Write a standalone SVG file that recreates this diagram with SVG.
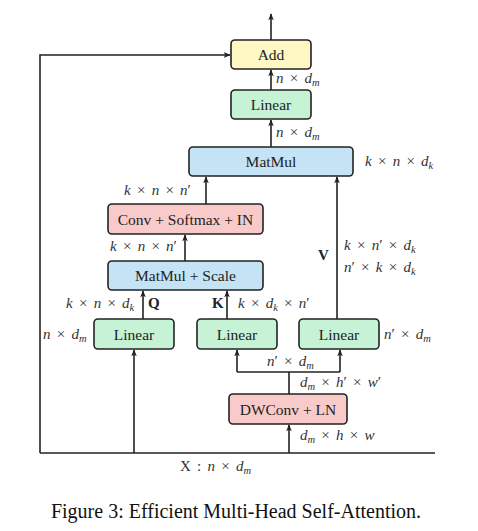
<svg xmlns="http://www.w3.org/2000/svg" width="478" height="531" viewBox="0 0 478 531">
<style>
.box{stroke:#222;stroke-width:1.6}
.lbl{font-family:"Liberation Serif",serif;font-size:15.5px;fill:#222;text-anchor:middle}
.m{font-family:"Liberation Serif",serif;font-size:15px;fill:#333;font-style:italic;word-spacing:2.5px}
.u{font-style:normal}
.s{font-size:10.5px}
.b{font-family:"Liberation Serif",serif;font-size:15px;font-weight:bold;fill:#222}
.ln{stroke:#222;stroke-width:1.6;fill:none}
</style>
<defs>
<marker id="ah" viewBox="0 0 10 10" refX="9" refY="5" markerWidth="7" markerHeight="7" orient="auto" markerUnits="userSpaceOnUse">
<path d="M0,1 L10,5 L0,9 L2.5,5 Z" fill="#222"/>
</marker>
</defs>
<rect width="478" height="531" fill="#fff"/>
<g id="connectors">
<path class="ln" d="M271,40 V14" marker-end="url(#ah)"/>
<path class="ln" d="M40,453 V55 H230" marker-end="url(#ah)"/>
<path class="ln" d="M271,90 V70" marker-end="url(#ah)"/>
<path class="ln" d="M271,147 V120" marker-end="url(#ah)"/>
<path class="ln" d="M206,204 V177" marker-end="url(#ah)"/>
<path class="ln" d="M185,261 V235" marker-end="url(#ah)"/>
<path class="ln" d="M143,319 V291" marker-end="url(#ah)"/>
<path class="ln" d="M227,319 V291" marker-end="url(#ah)"/>
<path class="ln" d="M337,319 V177" marker-end="url(#ah)"/>
<path class="ln" d="M40,453 H435"/>
<path class="ln" d="M134,453 V350" marker-end="url(#ah)"/>
<path class="ln" d="M289,453 V425" marker-end="url(#ah)"/>
<path class="ln" d="M289,394 V372"/>
<path class="ln" d="M237,372 H340"/>
<path class="ln" d="M237,372 V350" marker-end="url(#ah)"/>
<path class="ln" d="M340,372 V350" marker-end="url(#ah)"/>
</g>
<g id="add"><rect class="box" x="231" y="40" width="80" height="29" rx="4" fill="#fdf8c4"/><text class="lbl" x="271" y="60">Add</text></g>
<g id="linear-out"><rect class="box" x="231" y="90" width="80" height="29" rx="4" fill="#c6f3d5"/><text class="lbl" x="271" y="110">Linear</text></g>
<g id="matmul"><rect class="box" x="189" y="147" width="164" height="29" rx="4" fill="#c4e3f5"/><text class="lbl" x="271" y="167">MatMul</text></g>
<g id="conv-softmax"><rect class="box" x="108" y="204" width="155" height="30" rx="4" fill="#f9caca"/><text class="lbl" x="185.5" y="224.5">Conv + Softmax + IN</text></g>
<g id="matmul-scale"><rect class="box" x="108" y="261" width="155" height="29" rx="4" fill="#c4e3f5"/><text class="lbl" x="185.5" y="281">MatMul + Scale</text></g>
<g id="linear-q"><rect class="box" x="94" y="319" width="80" height="30" rx="4" fill="#c6f3d5"/><text class="lbl" x="134" y="339.5">Linear</text></g>
<g id="linear-k"><rect class="box" x="197" y="319" width="80" height="30" rx="4" fill="#c6f3d5"/><text class="lbl" x="237" y="339.5">Linear</text></g>
<g id="linear-v"><rect class="box" x="299" y="319" width="80" height="30" rx="4" fill="#c6f3d5"/><text class="lbl" x="339" y="339.5">Linear</text></g>
<g id="dwconv"><rect class="box" x="229" y="394" width="118" height="30" rx="4" fill="#f9caca"/><text class="lbl" x="288" y="414.5">DWConv + LN</text></g>
<g id="labels">
<text class="m" x="276" y="83">n <tspan class="u">×</tspan> d<tspan class="s" dy="3">m</tspan></text>
<text class="m" x="276" y="137">n <tspan class="u">×</tspan> d<tspan class="s" dy="3">m</tspan></text>
<text class="m" x="365" y="166">k <tspan class="u">×</tspan> n <tspan class="u">×</tspan> d<tspan class="s" dy="3">k</tspan></text>
<text class="m" x="124" y="195">k <tspan class="u">×</tspan> n <tspan class="u">×</tspan> n<tspan class="u">′</tspan></text>
<text class="m" x="110" y="251">k <tspan class="u">×</tspan> n <tspan class="u">×</tspan> n<tspan class="u">′</tspan></text>
<text class="b" x="318" y="260">V</text>
<text class="m" x="344" y="250">k <tspan class="u">×</tspan> n<tspan class="u">′</tspan> <tspan class="u">×</tspan> d<tspan class="s" dy="3">k</tspan></text>
<text class="m" x="344" y="272">n<tspan class="u">′</tspan> <tspan class="u">×</tspan> k <tspan class="u">×</tspan> d<tspan class="s" dy="3">k</tspan></text>
<text class="m" x="66" y="308">k <tspan class="u">×</tspan> n <tspan class="u">×</tspan> d<tspan class="s" dy="3">k</tspan></text>
<text class="b" x="148" y="308">Q</text>
<text class="b" x="212" y="308">K</text>
<text class="m" x="238" y="308">k <tspan class="u">×</tspan> d<tspan class="s" dy="3">k</tspan><tspan dy="-3"> </tspan><tspan class="u">×</tspan> n<tspan class="u">′</tspan></text>
<text class="m" x="43" y="339">n <tspan class="u">×</tspan> d<tspan class="s" dy="3">m</tspan></text>
<text class="m" x="384" y="339">n<tspan class="u">′</tspan> <tspan class="u">×</tspan> d<tspan class="s" dy="3">m</tspan></text>
<text class="m" x="267" y="366">n<tspan class="u">′</tspan> <tspan class="u">×</tspan> d<tspan class="s" dy="3">m</tspan></text>
<text class="m" x="300" y="387">d<tspan class="s" dy="3">m</tspan><tspan dy="-3"> </tspan><tspan class="u">×</tspan> h<tspan class="u">′</tspan> <tspan class="u">×</tspan> w<tspan class="u">′</tspan></text>
<text class="m" x="300" y="440">d<tspan class="s" dy="3">m</tspan><tspan dy="-3"> </tspan><tspan class="u">×</tspan> h <tspan class="u">×</tspan> w</text>
<text class="m" x="180" y="471"><tspan class="u">X :  </tspan>n <tspan class="u">×</tspan> d<tspan class="s" dy="3">m</tspan></text>
<text x="236" y="518" style="font-family:'Liberation Serif',serif;font-size:20px;fill:#111;text-anchor:middle">Figure 3: Efficient Multi-Head Self-Attention.</text>
</g>
</svg>
